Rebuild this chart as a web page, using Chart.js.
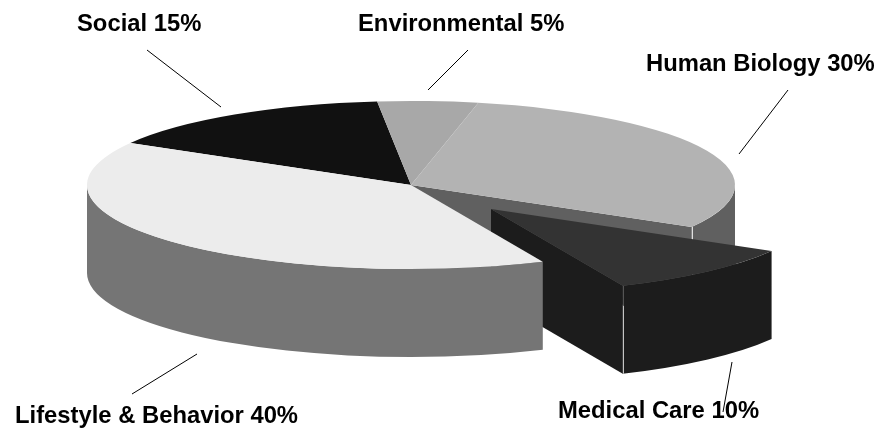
<!DOCTYPE html>
<html>
<head>
<meta charset="utf-8">
<title>Determinants of health</title>
<script src="https://cdn.jsdelivr.net/npm/chart.js@4"></script>
<style>
html,body{margin:0;padding:0;background:#fff;}
canvas{display:block;}
</style>
</head>
<body>
<canvas id="pieChart" width="882" height="432"></canvas>
<script>
const categories = ["Environmental","Human Biology","Medical Care","Lifestyle & Behavior","Social"];
const shares = [5,30,10,40,15];

const topColors = ["#a8a8a8","#b3b3b3","#333333","#ececec","#111111"];
const wallColors = ["#565656","#606060","#1c1c1c","#757575","#090909"];

// where each caption sits and where its leader line runs
const captionX = [358,646,558,15,77];
const captionY = [31,71,418,423,31];
const leaders = [
[468,50,428,90],
[788,90,739,154],
[732,362,723,412],
[197,354,132,394],
[147,50,221,107]
];

// flattened disc on the page
const centerX = 411;
const centerY = 185;
const radiusX = 324;
const radiusY = 84;
const depth = 88;

const explodedIndex = 2;
const explodeX = 80;
const explodeY = 24;

// back slices first, the lifestyle slice sits in front of the pulled out one
const drawOrder = [4,0,1,2,3];

function tiltedPie(ctx,arc,shiftX,shiftY,paint){

ctx.save();
ctx.translate(centerX+shiftX,centerY+shiftY);
ctx.scale(radiusX/arc.outerRadius,radiusY/arc.outerRadius);
ctx.translate(-arc.x,-arc.y);
paint(depth*arc.outerRadius/radiusY);
ctx.restore();

}

function drawWall(ctx,arc,drop){

const from = Math.max(arc.startAngle,0);
const to = Math.min(arc.endAngle,Math.PI);

if(to <= from){
return;
}

ctx.beginPath();
ctx.arc(arc.x,arc.y,arc.outerRadius,from,to);
ctx.arc(arc.x,arc.y+drop,arc.outerRadius,to,from,true);
ctx.closePath();
ctx.fill();

}

function drawEndFace(ctx,arc,drop){

const edgeX = arc.x+Math.cos(arc.endAngle)*arc.outerRadius;
const edgeY = arc.y+Math.sin(arc.endAngle)*arc.outerRadius;

ctx.beginPath();
ctx.moveTo(arc.x,arc.y);
ctx.lineTo(edgeX,edgeY);
ctx.lineTo(edgeX,edgeY+drop);
ctx.lineTo(arc.x,arc.y+drop);
ctx.closePath();
ctx.fill();

}

function drawCornerLine(ctx,arc,shiftX,shiftY,upper){

const x = Math.round(centerX+shiftX+Math.cos(arc.endAngle)*radiusX)+0.5;
const y = centerY+shiftY+Math.sin(arc.endAngle)*radiusY;

ctx.lineWidth = 1;

ctx.strokeStyle = upper;
ctx.beginPath();
ctx.moveTo(x,y);
ctx.lineTo(x,y+20);
ctx.stroke();

ctx.strokeStyle = "#c4c4c4";
ctx.beginPath();
ctx.moveTo(x,y+20);
ctx.lineTo(x,y+depth);
ctx.stroke();

}

const extrudedPie = {
id:"extrudedPie",
beforeDatasetDraw(chart,args){

const ctx = chart.ctx;
const arcs = args.meta.data;

drawOrder.forEach(function(i){

const arc = arcs[i];
const exposed = i === explodedIndex || i === explodedIndex-1;
const shiftX = i === explodedIndex ? explodeX : 0;
const shiftY = i === explodedIndex ? explodeY : 0;

tiltedPie(ctx,arc,shiftX,shiftY,function(drop){

ctx.fillStyle = wallColors[i];
drawWall(ctx,arc,drop);

if(exposed){
drawEndFace(ctx,arc,drop);
}

});

if(exposed){
drawCornerLine(ctx,arc,shiftX,shiftY,i === explodedIndex ? "#555555" : "#e0e0e0");
}

tiltedPie(ctx,arc,shiftX,shiftY,function(){
arc.draw(ctx);
});

});

return false;

},
afterDraw(chart){

const ctx = chart.ctx;

ctx.save();
ctx.strokeStyle = "#000000";
ctx.lineWidth = 1;

leaders.forEach(function(l){
ctx.beginPath();
ctx.moveTo(l[0],l[1]);
ctx.lineTo(l[2],l[3]);
ctx.stroke();
});

ctx.fillStyle = "#000000";
ctx.font = "bold 23.8px 'Liberation Sans', Arial, sans-serif";
ctx.textAlign = "left";
ctx.textBaseline = "alphabetic";

categories.forEach(function(name,i){
ctx.fillText(name+" "+shares[i]+"%",captionX[i],captionY[i]);
});

ctx.restore();

}
};

const ctx = document.getElementById("pieChart").getContext("2d");

const chart = new Chart(ctx,{
type:"pie",
data:{
labels:categories,
datasets:[{
data:shares,
backgroundColor:topColors,
borderWidth:0
}]
},
options:{
animation:false,
responsive:false,
rotation:-6,
radius:160,
plugins:{
legend:{display:false},
tooltip:{enabled:false}
}
},
plugins:[extrudedPie]
});
</script>
</body>
</html>
